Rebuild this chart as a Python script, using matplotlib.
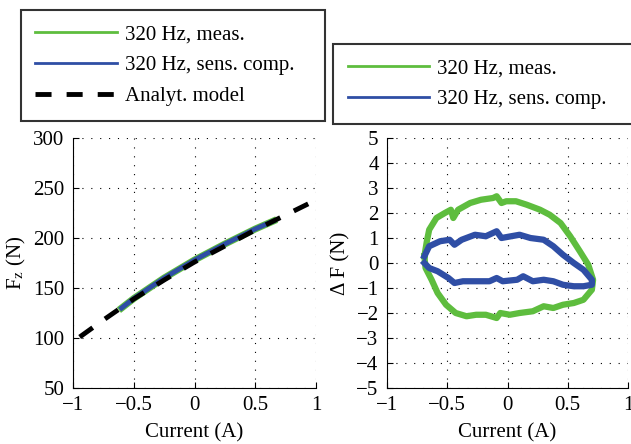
import matplotlib
matplotlib.use("Agg")
import matplotlib.pyplot as plt

# left panel: force vs current
model_i = [-0.945, -0.75, -0.5, -0.25, 0.0, 0.25, 0.5, 0.75, 1.0]
model_f = [101, 118, 139, 158, 176, 192, 208, 223, 238]
meas_i = [-0.6, -0.5, -0.25, 0.0, 0.25, 0.5, 0.65]
meas_f = [130, 139.5, 160, 178, 194, 209, 217]

# right panel: force error loops (upper branch left->right, then lower branch back)
green_i = [-0.69, -0.67, -0.65, -0.59, -0.52, -0.47, -0.45, -0.41, -0.31, -0.22, -0.12, -0.09,
           -0.05, -0.01, 0.07, 0.16, 0.27, 0.35, 0.44, 0.52, 0.6, 0.67, 0.71,
           0.7, 0.63, 0.55, 0.46, 0.38, 0.3, 0.21, 0.1, 0.02, -0.06, -0.09, -0.18,
           -0.26, -0.34, -0.43, -0.51, -0.58, -0.63, -0.68, -0.69]
green_df = [0.27, 0.85, 1.33, 1.8, 2.0, 2.13, 1.8, 2.13, 2.4, 2.53, 2.6, 2.67,
            2.4, 2.47, 2.47, 2.33, 2.13, 1.93, 1.6, 1.07, 0.47, -0.07, -0.67,
            -1.07, -1.47, -1.6, -1.67, -1.8, -1.73, -1.93, -2.0, -2.07, -2.0, -2.2, -2.07,
            -2.07, -2.13, -2.0, -1.67, -1.2, -0.67, -0.2, 0.27]
blue_i = [-0.69, -0.65, -0.56, -0.48, -0.44, -0.38, -0.27, -0.18, -0.09, -0.05, 0.03,
          0.1, 0.19, 0.3, 0.38, 0.46, 0.55, 0.63, 0.7,
          0.7, 0.63, 0.55, 0.46, 0.38, 0.3, 0.21, 0.13, 0.08, -0.04, -0.09, -0.15,
          -0.26, -0.37, -0.44, -0.49, -0.58, -0.65, -0.69]
blue_df = [0.27, 0.67, 0.87, 0.93, 0.73, 0.93, 1.13, 1.07, 1.27, 1.0, 1.07,
           1.13, 1.0, 0.93, 0.67, 0.33, 0.0, -0.27, -0.67,
           -0.87, -0.93, -0.93, -0.87, -0.73, -0.67, -0.73, -0.53, -0.67, -0.73, -0.6, -0.73,
           -0.73, -0.73, -0.8, -0.6, -0.33, -0.2, 0.0]

GREEN = "#5ebd3e"
BLUE = "#2f4ea5"

plt.rcParams["font.family"] = "Liberation Serif"
plt.rcParams["mathtext.fontset"] = "stix"
plt.rcParams["font.size"] = 15


def style(ax):
    ax.spines["top"].set_visible(False)
    ax.spines["right"].set_visible(False)
    ax.tick_params(direction="in", length=4, width=0.8, pad=6)
    ax.grid(True, color="black", linestyle=(0, (1, 7)), linewidth=0.8)
    ax.set_xlim(-1, 1)
    ax.set_xticks([-1, -0.5, 0, 0.5, 1])
    ax.set_xticklabels(["\u22121", "\u22120.5", "0", "0.5", "1"])
    ax.set_xlabel("Current (A)", labelpad=6)


fig = plt.figure(figsize=(6.31, 4.44), dpi=100)
ax1 = fig.add_axes([0.1157, 0.1261, 0.3851, 0.5631])
ax2 = fig.add_axes([0.6133, 0.1261, 0.382, 0.5631])

l1, = ax1.plot(meas_i, meas_f, color=GREEN, linewidth=5, label="320 Hz, meas.")
l2, = ax1.plot(meas_i, meas_f, color=BLUE, linewidth=3.5, label="320 Hz, sens. comp.")
l3, = ax1.plot(model_i, model_f, color="black", linewidth=3.5, dashes=(3.3, 3.1),
               label="Analyt. model")
style(ax1)
ax1.set_ylim(50, 300)
ax1.set_yticks([50, 100, 150, 200, 250, 300])
ax1.set_ylabel(r"F$_{\rm z}$ (N)", labelpad=4)

g, = ax2.plot(green_i, green_df, color=GREEN, linewidth=4.5, label="320 Hz, meas.")
b, = ax2.plot(blue_i, blue_df, color=BLUE, linewidth=4.5, label="320 Hz, sens. comp.")
style(ax2)
ax2.set_ylim(-5, 5)
ax2.set_yticks(range(-5, 6))
ax2.set_yticklabels([str(v).replace("-", "\u2212") for v in range(-5, 6)])
ax2.set_ylabel("\u0394 F (N)", labelpad=4)

leg_kw = dict(loc="upper left", frameon=True, fancybox=False, handlelength=3.9,
              handletextpad=0.4, borderpad=0.7, labelspacing=0.55, borderaxespad=0,
              mode="expand", bbox_transform=fig.transFigure)
leg1 = fig.legend(handles=[l1, l2, l3], bbox_to_anchor=(0.033, 0.977, 0.482, 0), **leg_kw)
leg2 = fig.legend(handles=[g, b], bbox_to_anchor=(0.528, 0.901, 0.52, 0), **leg_kw)
for leg in (leg1, leg2):
    fr = leg.get_frame()
    fr.set_edgecolor("black")
    fr.set_linewidth(1.5)
    for ln in leg.get_lines():
        if ln.get_color() != "black":
            ln.set_linewidth(2)

fig.savefig("out.png", dpi=100)
